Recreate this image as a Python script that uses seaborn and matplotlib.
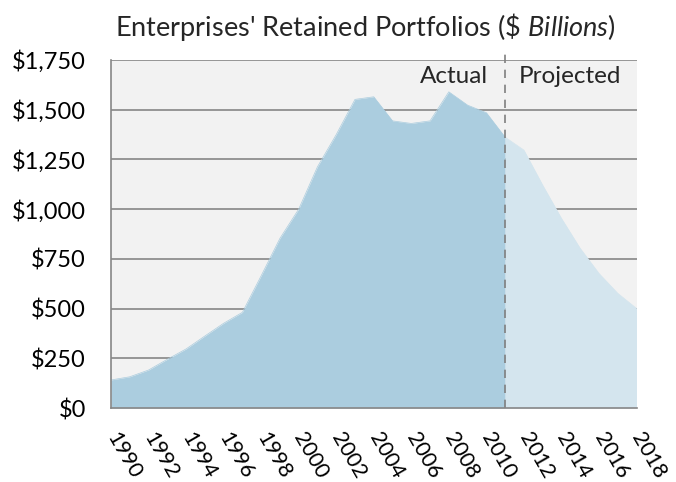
import numpy as np
import pandas as pd
import matplotlib
matplotlib.use("Agg")
import matplotlib.pyplot as plt
import seaborn as sns

# donnees ($ milliards)
actual_years = list(range(1990, 2012))
actual_values = [141, 157, 191, 245, 297, 362, 426, 481, 665, 853, 1000,
                 1213, 1375, 1552, 1565, 1444, 1431, 1444, 1590, 1523, 1485, 1362]
projected_years = list(range(2011, 2019))
projected_values = [1362, 1297, 1121, 954, 803, 677, 577, 501]

y_ticks = [0, 250, 500, 750, 1000, 1250, 1500, 1750]
y_labels = ["$0", "$250", "$500", "$750", "$1,000", "$1,250", "$1,500", "$1,750"]
x_label_years = list(range(1990, 2019, 2))
split_year = 2011

actual = pd.DataFrame({"year": actual_years, "value": actual_values})
projected = pd.DataFrame({"year": projected_years, "value": projected_values})

sns.set_style("white")
plt.rcParams["font.family"] = ["Lato", "DejaVu Sans"]
plt.rcParams["mathtext.fontset"] = "custom"
plt.rcParams["mathtext.rm"] = "Lato"
plt.rcParams["mathtext.it"] = "Lato:italic"

grey = "#878787"
col_actual = "#abcddf"
col_proj = "#d4e5ee"

fig = plt.figure(figsize=(6.76, 4.82), dpi=100)
ax = fig.add_axes([111 / 676, 74 / 482, 525.5 / 676, 348 / 482])
ax.set_facecolor("#f2f2f2")

# les aires
sns.lineplot(data=actual, x="year", y="value", ax=ax, color=col_actual, lw=0.5)
sns.lineplot(data=projected, x="year", y="value", ax=ax, color=col_proj, lw=0.5)
ax.fill_between(actual["year"], actual["value"], color=col_actual, lw=0, zorder=2)
ax.fill_between(projected["year"], projected["value"], color=col_proj, lw=0, zorder=2)

ax.set_xlim(1990, 2018)
ax.set_ylim(0, 1750)
ax.set_xticks(range(1990, 2019))
ax.set_xticklabels([str(y) if y in x_label_years else "" for y in range(1990, 2019)])
ax.set_yticks(y_ticks)
ax.set_yticklabels(y_labels)
ax.set_xlabel("")
ax.set_ylabel("")

ax.grid(axis="y", color=grey, lw=1.2, zorder=1)
ax.set_axisbelow(True)
for s in ["top", "right"]:
    ax.spines[s].set_visible(False)
for s in ["left", "bottom"]:
    ax.spines[s].set_color(grey)
    ax.spines[s].set_linewidth(1.2)
    ax.spines[s].set_zorder(5)

ax.tick_params(axis="both", direction="out", color=grey, width=1.2, length=6,
               labelcolor="black")
ax.tick_params(axis="y", labelsize=17, pad=12)
ax.tick_params(axis="x", labelsize=15.5, pad=13)
for lab in ax.get_xticklabels():
    lab.set_rotation(-60)
    lab.set_ha("left")
    lab.set_va("center")
    lab.set_rotation_mode("anchor")

# separation reel / projete
ax.axvline(split_year, ymin=0, ymax=1.02, color="#7f7f7f", lw=1.2,
           ls=(0, (5, 4)), clip_on=False, zorder=4)
ax.annotate("Actual", xy=(split_year, 1667), xytext=(-12, 0), textcoords="offset points",
            ha="right", va="center", fontsize=17.5)
ax.annotate("Projected", xy=(split_year, 1667), xytext=(10, 0), textcoords="offset points",
            ha="left", va="center", fontsize=17.5)

fig.text(365 / 676, 1 - 27 / 482,
         "Enterprises' Retained Portfolios ($\\mathit{\\$\\ Billions}$)",
         ha="center", va="center", fontsize=19.5)

fig.savefig("out.png", dpi=100)
